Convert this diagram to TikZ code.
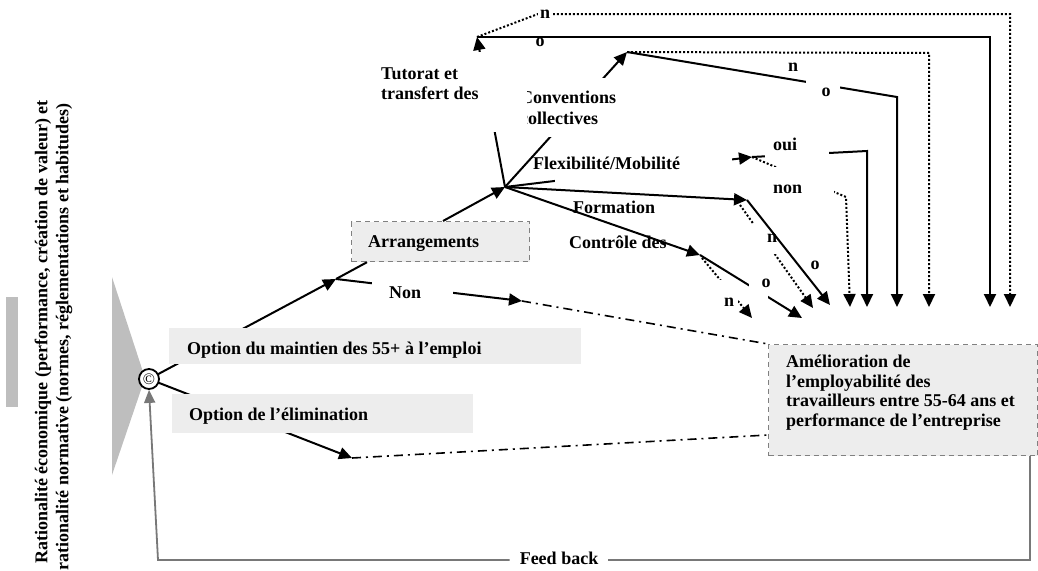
\documentclass[tikz,border=0pt]{standalone}
\usepackage{fontspec}
\setmainfont{Liberation Serif}
\usetikzlibrary{arrows.meta}
\definecolor{boxgray}{RGB}{237,237,237}
\definecolor{shapegray}{RGB}{190,190,190}
\definecolor{fbgray}{RGB}{120,120,120}
\definecolor{dashgray}{RGB}{128,128,128}
\tikzset{
  txt/.style={font=\fontsize{18}{19.5}\selectfont\bfseries, inner sep=0pt},
  conn/.style={line width=2pt},
  arr/.style={conn, -{Triangle[length=13pt,width=12pt]}},
  dots/.style={line width=2pt, dash pattern=on 2pt off 2pt},
  darr/.style={dots, -{Triangle[length=13pt,width=12pt]}},
  dashdot/.style={line width=1.6pt, dash pattern=on 9pt off 5pt on 2pt off 5pt},
  occl/.style={fill=white, draw=none},
  optbox/.style={fill=boxgray, draw=none, inner sep=0pt},
  dbox/.style={fill=boxgray, draw=dashgray, line width=1.2pt, dash pattern=on 5pt off 4pt, inner sep=0pt},
  fb/.style={draw=fbgray, line width=1.8pt},
  fbarr/.style={fb, -{Triangle[length=13pt,width=11pt]}, fbgray},
}
\begin{document}
\begin{tikzpicture}[x=1pt,y=-1pt]
\useasboundingbox (0,0) rectangle (1038,570);

% left side
\node[txt, rotate=90, anchor=east] (rat1) at (43,100) {Rationalité économique (performance, création de valeur) et};
\node[txt, rotate=90, anchor=east] (rat2) at (64,103) {rationalité normative (normes, réglementations et habitudes)};
\fill[shapegray] (6,297) rectangle (18,407);
\fill[shapegray] (112,277) -- (145,378) -- (112,475) -- cycle;

% key points
\coordinate (c0) at (149,379);
\coordinate (j) at (336,279);
\coordinate (nonA) at (522,301);
\coordinate (elA) at (352,458);
\coordinate (h) at (505,187);
\coordinate (tt) at (477,37);
\coordinate (tc) at (627,52);
\coordinate (tfx) at (752,157);
\coordinate (tfo) at (747,200);
\coordinate (tco) at (700,255);

% boxes (background)
\node[dbox, anchor=north west, minimum width=178pt, minimum height=40pt] (arr) at (351,221) {};
\node[dbox, anchor=north west, minimum width=269pt, minimum height=111pt] (am) at (768,344) {};

% connectors from choice circle
\draw[arr] (c0) -- (j);
\draw[conn] (j) -- (arr.south west -| 367,0);
\draw[arr] (j) -- (nonA);
\draw[dashdot] (nonA) -- (am.north west);
\draw[arr] (c0) -- (elA);
\draw[dashdot] (elA) -- (am.west |- 0,435);
\draw[arr] (arr.north -| 443,0) -- (h);

% hub connectors
\draw[arr] (h) -- (tt);
\draw[arr] (h) -- (tc);
\draw[arr] (h) -- (tfx);
\draw[arr] (h) -- (tfo);
\draw[arr] (h) -- (tco);

% tutorat branches
\draw[darr] (tt) -- (538,14) -- (1010,14) -- (1010,307);
\draw[arr] (tt) -- (990,37) -- (990,307);
% conventions branches
\draw[darr] (tc) -- (929,53) -- (929,307);
\draw[arr] (tc) -- (897,97) -- (897,307);
% flexibilite branches
\draw[arr] (tfx) -- (867,151) -- (867,307);
\draw[darr] (tfx) -- (846,197) -- (850,307);
% formation dotted
\draw[darr] ([shift={(-7,5)}]tfo) -- (813,308);
% controle branches
\draw[darr] ([shift={(2,3)}]tco) -- (752,318);
\draw[arr] (tco) -- (802,318);

% occluders and labels
\fill[occl] (515,78) rectangle (640,137);
\node[txt, anchor=base west] (conv1) at (520,103) {Conventions};
\node[txt, anchor=base west] (conv2) at (520,124) {collectives};
\fill[occl] (370,52) rectangle (527,132);
\node[txt, anchor=base west] (tut1) at (381,79) {Tutorat et};
\node[txt, anchor=base west] (tut2) at (381,99) {transfert des};
\fill[occl] (555,146) rectangle (732,183);
\node[txt, anchor=base west] (flex) at (533,169) {Flexibilité/Mobilité};
\node[txt, anchor=base west] (form) at (573,213) {Formation};
\node[txt, anchor=base west] (ctrl) at (569,248) {Contrôle des};
\node[txt, anchor=base west] (arrT) at (368,247) {Arrangements};
\fill[occl] (372,272) rectangle (453,306);
\node[txt, anchor=base west] (non) at (389,298) {Non};
\fill[occl] (765,128) rectangle (829,161);
\node[txt, anchor=base west] (oui) at (773,150) {oui};
\fill[occl] (765,167) rectangle (834,206);
\node[txt, anchor=base west] (nonF) at (773,193) {non};
\fill[occl] (538,4) rectangle (553,24);
\node[txt, anchor=base] (nT) at (545,18) {n};
\node[txt, anchor=base] (oT) at (540,46) {o};
\node[txt, anchor=base] (nC) at (793,71) {n};
\fill[occl] (806,80) rectangle (840,101);
\node[txt, anchor=base] (oC) at (826,96) {o};
\fill[occl] (752,224) rectangle (782,254);
\node[txt, anchor=base] (nF) at (772,242) {n};
\node[txt, anchor=base] (oF) at (815,269) {o};
\fill[occl] (749,272) rectangle (768,300);
\node[txt, anchor=base] (oK) at (766,287) {o};
\fill[occl] (719,280) rectangle (738,310);
\node[txt, anchor=base] (nK) at (729,306) {n};

% formation solid (over its label)
\draw[arr] (tfo) -- (830,305);

% option boxes
\node[optbox, anchor=north west, minimum width=412pt, minimum height=36pt] (opt1) at (169,328) {};
\node[txt, anchor=base west] (opt1T) at (187,354) {Option du maintien des 55+ à l’emploi};
\node[optbox, anchor=north west, minimum width=301pt, minimum height=39pt] (opt2) at (172,394) {};
\node[txt, anchor=base west] (opt2T) at (189,420) {Option de l’élimination};

% outcome text
\node[txt, anchor=north west, align=left] (amT) at (786,355) {Amélioration de\\l’employabilité des\\travailleurs entre 55-64 ans et\\performance de l’entreprise};

% choice circle
\node[circle, draw, line width=1.8pt, minimum size=20pt, inner sep=0pt, fill=white] (c) at (c0) {\fontsize{16}{16}\selectfont\textcopyright};

% feed back
\node[txt, inner xsep=10pt] (fbT) at (559,558) {Feed back};
\draw[fb] (am.south east -| 1030,0) -- (1030,560) -- (fbT.east |- 0,560);
\draw[fbarr] (fbT.west |- 0,560) -- (158,560) -- (c.south);
\end{tikzpicture}
\end{document}
